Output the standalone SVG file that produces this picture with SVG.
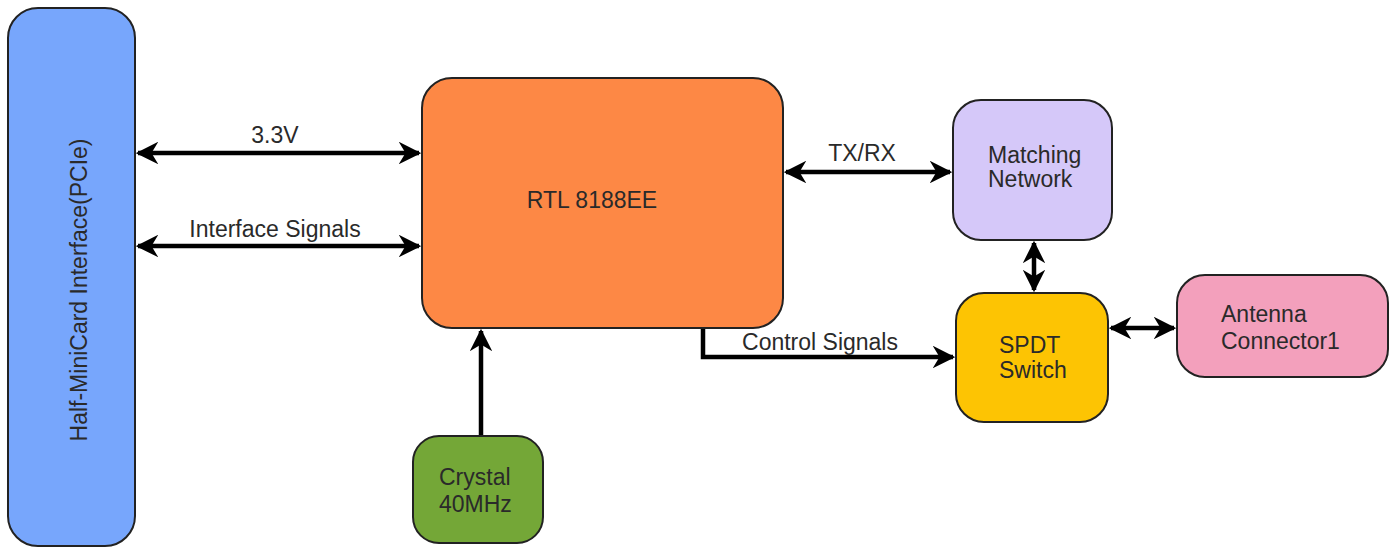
<svg xmlns="http://www.w3.org/2000/svg" width="1391" height="548" viewBox="0 0 1391 548">
<style>
.n{stroke:#222;stroke-width:2}
.t{font-family:"Liberation Sans",Arial,sans-serif;font-size:23px;fill:#2a2a2a;text-anchor:middle}
.l{text-anchor:start}
.c{stroke:#000;stroke-width:4.5;fill:none}
</style>
<defs>
<marker id="ah" viewBox="0 0 10 10" refX="9" refY="5" markerWidth="5" markerHeight="5" orient="auto-start-reverse" markerUnits="strokeWidth">
<path d="M0,0 L10,5 L0,10 L3,5 Z" fill="#000"/>
</marker>
</defs>
<rect width="1391" height="548" fill="#fff"/>
<g id="connectors">
<line class="c" x1="138" y1="153" x2="419" y2="153" marker-start="url(#ah)" marker-end="url(#ah)"/>
<line class="c" x1="138" y1="246" x2="419" y2="246" marker-start="url(#ah)" marker-end="url(#ah)"/>
<line class="c" x1="786" y1="172" x2="950" y2="172" marker-start="url(#ah)" marker-end="url(#ah)"/>
<line class="c" x1="1034" y1="243" x2="1034" y2="290" marker-start="url(#ah)" marker-end="url(#ah)"/>
<line class="c" x1="1111" y1="328" x2="1174" y2="328" marker-start="url(#ah)" marker-end="url(#ah)"/>
<line class="c" x1="481" y1="436" x2="481" y2="331" marker-end="url(#ah)"/>
<polyline class="c" points="703,328 703,357 953,357" marker-end="url(#ah)"/>
<text class="t" x="275" y="143">3.3V</text>
<text class="t" x="275" y="237">Interface Signals</text>
<text class="t" x="862" y="161">TX/RX</text>
<text class="t" x="820" y="350">Control Signals</text>
</g>
<g id="pcie">
<rect class="n" x="8" y="8" width="127" height="538" rx="30" fill="#77a6fc"/>
<text class="t" transform="translate(87,290) rotate(-90)">Half-MiniCard Interface(PCIe)</text>
</g>
<g id="rtl">
<rect class="n" x="422" y="78" width="361" height="250" rx="30" fill="#fd8845"/>
<text class="t" x="592" y="208">RTL 8188EE</text>
</g>
<g id="matching">
<rect class="n" x="953" y="100" width="159" height="140" rx="28" fill="#d5c8f9"/>
<text class="t l" x="988" y="163">Matching</text>
<text class="t l" x="988" y="187">Network</text>
</g>
<g id="spdt">
<rect class="n" x="956" y="293" width="152" height="129" rx="28" fill="#fdc403"/>
<text class="t l" x="999" y="353">SPDT</text>
<text class="t l" x="999" y="378">Switch</text>
</g>
<g id="antenna">
<rect class="n" x="1177" y="275" width="211" height="102" rx="28" fill="#f3a0bc"/>
<text class="t l" x="1221" y="322">Antenna</text>
<text class="t l" x="1221" y="349">Connector1</text>
</g>
<g id="crystal">
<rect class="n" x="413" y="436" width="130" height="107" rx="26" fill="#74a737"/>
<text class="t l" x="439" y="485">Crystal</text>
<text class="t l" x="439" y="512">40MHz</text>
</g>
</svg>
